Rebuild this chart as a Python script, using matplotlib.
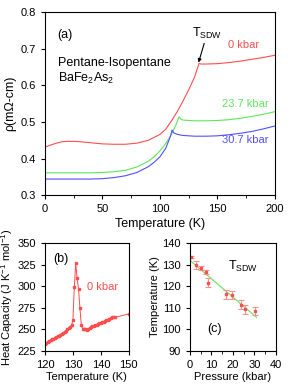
import matplotlib
matplotlib.use('Agg')
import matplotlib.pyplot as plt
from matplotlib.ticker import MultipleLocator

plt.rcParams['font.family'] = ['Liberation Sans', 'DejaVu Sans']
plt.rcParams['mathtext.fontset'] = 'custom'
plt.rcParams['mathtext.rm'] = 'Liberation Sans'
plt.rcParams['mathtext.it'] = 'Liberation Sans:italic'
plt.rcParams['axes.linewidth'] = 0.8
plt.rcParams['xtick.major.width'] = 0.8
plt.rcParams['ytick.major.width'] = 0.8

# ---- panel (a): resistivity vs temperature ----
t_0kbar = [0, 5, 10, 15, 20, 25, 30, 40, 50, 60, 70, 80, 90, 100, 105, 110, 115,
           120, 125, 130, 134, 135.5, 140, 150, 160, 170, 180, 190, 200]
rho_0kbar = [0.431, 0.437, 0.442, 0.446, 0.447, 0.447, 0.446, 0.443, 0.440, 0.439,
             0.439, 0.442, 0.450, 0.466, 0.480, 0.503, 0.528, 0.557, 0.588, 0.622,
             0.660, 0.658, 0.658, 0.659, 0.662, 0.666, 0.671, 0.676, 0.682]

t_237kbar = [0, 20, 40, 50, 60, 70, 80, 90, 95, 100, 105, 110, 114, 116.5, 118,
             120, 130, 140, 150, 160, 170, 180, 190, 200]
rho_237kbar = [0.361, 0.361, 0.361, 0.362, 0.364, 0.368, 0.377, 0.393, 0.405, 0.421,
               0.441, 0.466, 0.493, 0.514, 0.508, 0.505, 0.503, 0.503, 0.504, 0.506,
               0.510, 0.515, 0.521, 0.528]

t_307kbar = [0, 20, 40, 50, 60, 70, 80, 90, 95, 100, 105, 109, 110.5, 112, 115,
             120, 130, 140, 150, 160, 170, 180, 190, 200]
rho_307kbar = [0.344, 0.344, 0.344, 0.345, 0.348, 0.353, 0.362, 0.378, 0.390, 0.405,
               0.428, 0.460, 0.478, 0.470, 0.466, 0.463, 0.461, 0.461, 0.462, 0.465,
               0.469, 0.474, 0.481, 0.489]

# ---- panel (b): heat capacity at 0 kbar ----
t_cp = [120, 120.5, 121, 121.5, 122, 122.5, 123, 123.5, 124, 124.5, 125, 125.5, 126,
        126.5, 127, 127.5, 128, 128.5, 129, 129.5, 130, 130.5, 131, 131.5, 132, 132.5,
        133, 133.5, 134, 134.5, 135, 135.5, 136, 136.5, 137, 137.5, 138, 138.5, 139,
        139.5, 140, 140.5, 141, 141.5, 142, 142.5, 143, 143.5, 144, 144.5, 145, 150]
cp = [233.5, 234.5, 235.5, 236.5, 237.5, 238.5, 239.3, 240.2, 241, 242, 243, 244,
      245.2, 246.3, 247.5, 248.7, 250, 251.5, 253, 254.8, 261, 299, 326.5, 309, 297,
      275, 255, 251, 250.5, 250.5, 249.8, 250.5, 251.5, 252.5, 253.5, 254, 255, 255.5,
      256.5, 257, 258, 258.5, 259, 260, 261, 261.5, 262.5, 263.5, 264, 264, 264, 268]

# ---- panel (c): T_SDW vs pressure ----
pressure = [0.3, 2.6, 5.0, 7.3, 8.2, 16.7, 19.4, 23.6, 25.7, 30.4]
t_sdw = [133.5, 129.8, 128.5, 126.6, 121.6, 116.2, 116.1, 111.5, 109.3, 108.4]
t_err = [0.5, 1.8, 1.0, 1.0, 2.0, 2.0, 1.8, 2.0, 2.0, 1.8]
fit_p = [0, 31]
fit_t = [131.9, 105.6]

red = '#ff4d4d'
green = '#5ee65e'
blue = '#5050ff'

fig = plt.figure(figsize=(2.91, 3.88), dpi=100)
ax_a = fig.add_axes([0.1546, 0.497, 0.7904, 0.472])
ax_b = fig.add_axes([0.1546, 0.095, 0.288, 0.279])
ax_c = fig.add_axes([0.653, 0.095, 0.295, 0.279])

fs = 8

#%% panel a
ax_a.plot(t_0kbar, rho_0kbar, color=red, lw=0.8)
ax_a.plot(t_237kbar, rho_237kbar, color=green, lw=0.8)
ax_a.plot(t_307kbar, rho_307kbar, color=blue, lw=0.8)
ax_a.set_xlim(0, 200)
ax_a.set_ylim(0.3, 0.8)
ax_a.xaxis.set_major_locator(MultipleLocator(50))
ax_a.xaxis.set_minor_locator(MultipleLocator(25))
ax_a.yaxis.set_major_locator(MultipleLocator(0.1))
ax_a.tick_params(labelsize=fs, length=3)
ax_a.tick_params(which='minor', length=2)
ax_a.set_xlabel('Temperature (K)', fontsize=9, labelpad=3)
ax_a.set_ylabel('ρ(mΩ-cm)', fontsize=9, labelpad=3)
ax_a.text(0.055, 0.91, '(a)', transform=ax_a.transAxes, fontsize=9, va='top')
ax_a.text(0.055, 0.72, 'Pentane-Isopentane', transform=ax_a.transAxes, fontsize=9, va='center')
ax_a.text(0.055, 0.64, r'BaFe$_2$As$_2$', transform=ax_a.transAxes, fontsize=9, va='center')
ax_a.annotate(r'T$_{\rm SDW}$', xy=(133.5, 0.662), xytext=(128, 0.722),
              fontsize=9, ha='left', va='bottom',
              arrowprops=dict(arrowstyle='-|>', color='k', lw=0.8, mutation_scale=5,
                              shrinkA=0, shrinkB=0))
ax_a.text(173, 0.71, '0 kbar', color=red, fontsize=8, ha='center', va='center')
ax_a.text(174, 0.55, '23.7 kbar', color=green, fontsize=8, ha='center', va='center')
ax_a.text(174, 0.45, '30.7 kbar', color=blue, fontsize=8, ha='center', va='center')

#%% panel b
ax_b.plot(t_cp, cp, color=red, lw=0.7, marker='s', ms=1.6, mec=red, mfc=red)
ax_b.set_xlim(120, 150)
ax_b.set_ylim(225, 350)
ax_b.xaxis.set_major_locator(MultipleLocator(10))
ax_b.yaxis.set_major_locator(MultipleLocator(25))
ax_b.tick_params(labelsize=fs, length=3)
ax_b.set_xlabel('Temperature (K)', fontsize=8, labelpad=1)
ax_b.set_ylabel(r'Heat Capacity (J K$^{-1}$ mol$^{-1}$)', fontsize=8, labelpad=2)
ax_b.text(0.1, 0.85, '(b)', transform=ax_b.transAxes, fontsize=9, va='center')
ax_b.text(140.5, 299, '0 kbar', color=red, fontsize=8, ha='center', va='center')

#%% panel c
ax_c.plot(fit_p, fit_t, color=green, lw=0.8)
ax_c.errorbar(pressure, t_sdw, yerr=t_err, fmt='s', color=red, ms=1.8,
              ecolor='#ff9090', elinewidth=0.8, capsize=2, capthick=0.8)
ax_c.set_xlim(0, 40)
ax_c.set_ylim(90, 140)
ax_c.xaxis.set_major_locator(MultipleLocator(10))
ax_c.xaxis.set_minor_locator(MultipleLocator(5))
ax_c.yaxis.set_major_locator(MultipleLocator(10))
ax_c.tick_params(labelsize=fs, length=3)
ax_c.tick_params(which='minor', length=2)
ax_c.set_xlabel('Pressure (kbar)', fontsize=8, labelpad=1)
ax_c.set_ylabel('Temperature (K)', fontsize=8, labelpad=2)
ax_c.text(0.62, 0.78, r'T$_{\rm SDW}$', transform=ax_c.transAxes, fontsize=9,
          ha='center', va='center')
ax_c.text(0.28, 0.2, '(c)', transform=ax_c.transAxes, fontsize=9, ha='center', va='center')

fig.savefig('out.png', dpi=100)
